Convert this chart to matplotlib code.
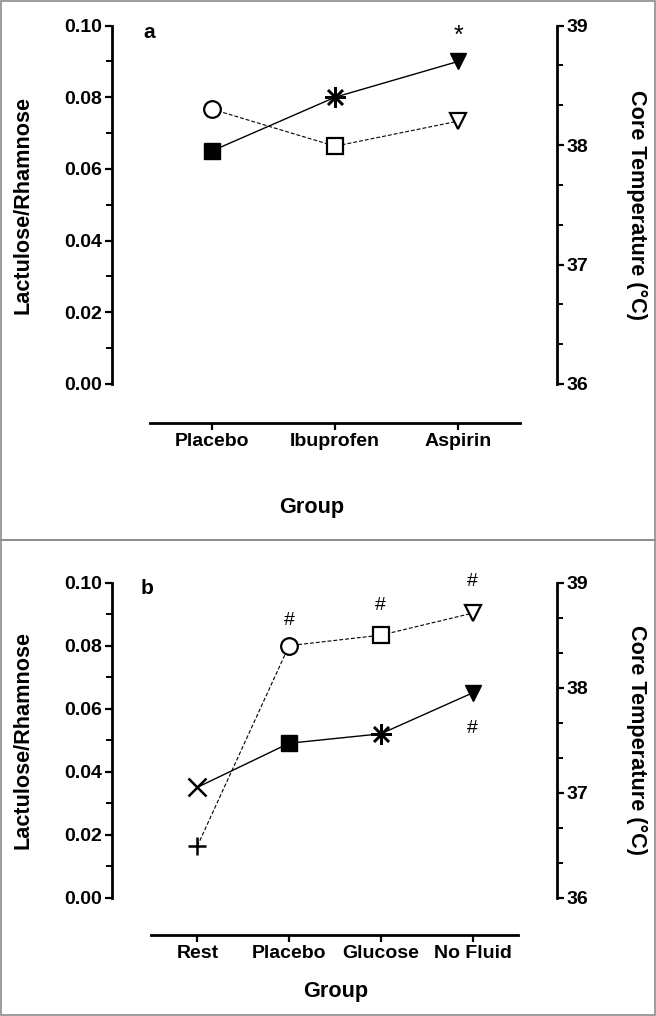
import matplotlib
matplotlib.use("Agg")
import matplotlib.pyplot as plt
from matplotlib.patches import Rectangle

plt.rcParams['font.family'] = ['Liberation Sans', 'DejaVu Sans']
plt.rcParams['font.weight'] = 'bold'

# panel a
groups_a = ["Placebo", "Ibuprofen", "Aspirin"]
lr_a = [0.065, 0.080, 0.090]          # lactulose/rhamnose (solid)
temp_a = [38.30, 37.99, 38.20]        # core temperature (dashed)

# panel b
groups_b = ["Rest", "Placebo", "Glucose", "No Fluid"]
lr_b = [0.035, 0.049, 0.052, 0.065]
temp_b = [36.49, 38.40, 38.50, 38.71]

DASH = (0, (3.5, 1.8))


def draw_series(ax, xs, ys, markers, ls, lw):
    ax.plot(xs, ys, color='black', ls=ls, lw=lw, zorder=2)
    for x, y, m in zip(xs, ys, markers):
        kw = dict(color='black', ms=m[1], zorder=3, ls='none')
        if m[2]:
            kw.update(mfc='black')
        else:
            kw.update(mfc='white', mew=1.6)
        if m[0] in ('x', '+') or isinstance(m[0], tuple):
            kw.update(mew=1.8)
        ax.plot([x], [y], marker=m[0], **kw)


def setup(ax, ax2, labels, xlim, offset):
    n = len(labels)
    ax.set_xlim(*xlim)
    ax.set_ylim(0, 0.10)
    ax2.set_ylim(36, 39)
    for s in ('top', 'right'):
        ax.spines[s].set_visible(False)
    for s in ('top', 'left', 'bottom'):
        ax2.spines[s].set_visible(False)
    for sp in (ax.spines['left'], ax.spines['bottom'], ax2.spines['right']):
        sp.set_linewidth(2.0)
    ax.spines['bottom'].set_bounds(-0.5, n - 0.5)
    ax.spines['bottom'].set_position(('outward', offset))
    ax.set_xticks(range(n))
    ax.set_xticklabels(labels, fontsize=14, fontweight='bold')
    ax.set_yticks([0, 0.02, 0.04, 0.06, 0.08, 0.10])
    ax.set_yticklabels(["0.00", "0.02", "0.04", "0.06", "0.08", "0.10"],
                       fontsize=14, fontweight='bold')
    ax.set_yticks([0.01, 0.03, 0.05, 0.07, 0.09], minor=True)
    ax2.set_yticks([36, 37, 38, 39])
    ax2.set_yticklabels(["36", "37", "38", "39"], fontsize=14, fontweight='bold')
    ax2.set_yticks([36 + i / 3 for i in range(1, 9) if i % 3], minor=True)
    ax.tick_params(axis='both', which='major', length=5, width=1.6, pad=2)
    ax.tick_params(axis='y', which='minor', length=4, width=1.4)
    ax.tick_params(axis='x', which='minor', length=0)
    ax2.tick_params(axis='y', which='major', length=5, width=1.6, pad=2)
    ax2.tick_params(axis='y', which='minor', length=4, width=1.4)


fig = plt.figure(figsize=(6.56, 10.16), dpi=100)
W, H = 656, 1016


def axes_px(x0, x1, ytop, ybot):
    return fig.add_axes([x0 / W, 1 - ybot / H, (x1 - x0) / W, (ybot - ytop) / H])


# ---- panel a ----
ax = axes_px(112, 557, 25.5, 384)
ax2 = ax.twinx()
ax.patch.set_visible(False)
setup(ax, ax2, groups_a, (-0.81, 2.80), 28)
draw_series(ax, range(3), lr_a, [('s', 11, True), ((8, 2, 0), 15, True), ('v', 12, True)], '-', 1.0)
draw_series(ax2, range(3), temp_a, [('o', 12, False), ('s', 12, False), ('v', 11, False)], DASH, 0.8)
ax.annotate("*", (2, lr_a[2]), xytext=(0, 18), textcoords='offset points',
            ha='center', va='center', fontsize=18, fontweight='normal')
ax.text(-0.51, 0.098, "a", fontsize=15, fontweight='bold', ha='center', va='center')

# ---- panel b ----
bx = axes_px(112, 557, 582.7, 897.5)
bx2 = bx.twinx()
setup(bx, bx2, groups_b, (-0.93, 3.92), 27)
draw_series(bx, range(4), lr_b, [('x', 13, True), ('s', 11, True), ((8, 2, 0), 15, True), ('v', 12, True)], '-', 1.0)
draw_series(bx2, range(4), temp_b, [('+', 13, True), ('o', 12, False), ('s', 12, False), ('v', 11, False)], DASH, 0.8)
for i, dy in [(1, 18), (2, 21), (3, 23)]:
    bx2.annotate("#", (i, temp_b[i]), xytext=(0, dy), textcoords='offset points',
                 ha='center', va='center', fontsize=14, fontweight='normal')
bx.annotate("#", (3, lr_b[3]), xytext=(0, -26), textcoords='offset points',
            ha='center', va='center', fontsize=14, fontweight='normal')
bx.text(-0.55, 0.098, "b", fontsize=15, fontweight='bold', ha='center', va='center')

# axis titles
for yc in (205, 740):
    fig.text(23 / W, 1 - yc / H, "Lactulose/Rhamnose", rotation=90, fontsize=15.6,
             fontweight='bold', ha='center', va='center')
    fig.text(637 / W, 1 - yc / H, "Core Temperature (°C)", rotation=270, fontsize=15.6,
             fontweight='bold', ha='center', va='center')
fig.text(312 / W, 1 - 507 / H, "Group", fontsize=15.6, fontweight='bold', ha='center', va='center')
fig.text(336 / W, 1 - 992 / H, "Group", fontsize=15.6, fontweight='bold', ha='center', va='center')

# panel frames
for y0, y1 in [(0.5, 540), (540, 1015)]:
    fig.add_artist(Rectangle((0.8 / W, 1 - y1 / H), 654 / W, (y1 - y0) / H,
                             transform=fig.transFigure, fill=False,
                             edgecolor='#8c8c8c', lw=1.2))

fig.savefig("out.png", dpi=100)
